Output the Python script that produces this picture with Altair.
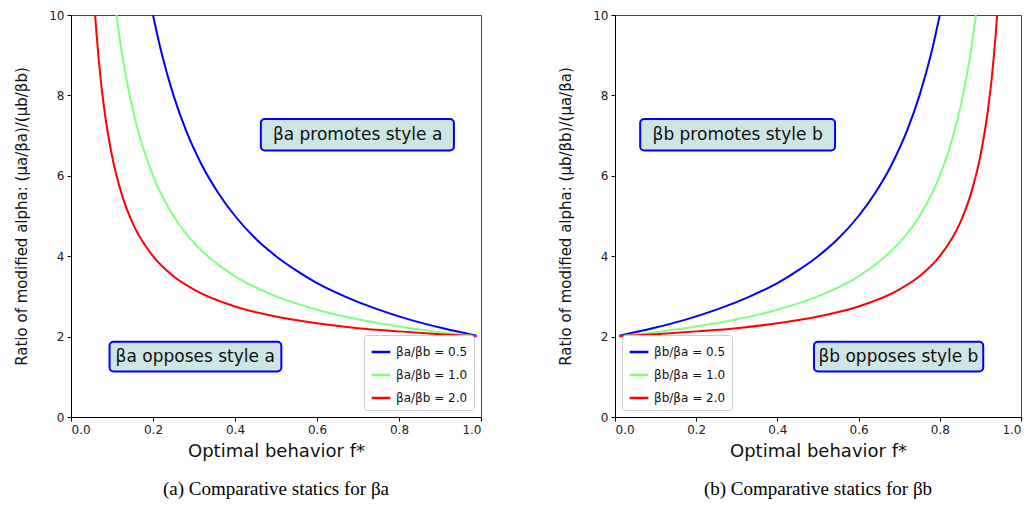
import altair as alt
import pandas as pd

# ---------------- data ----------------
series_a = ["βa/βb = 0.5", "βa/βb = 1.0", "βa/βb = 2.0"]
series_b = ["βb/βa = 0.5", "βb/βa = 1.0", "βb/βa = 2.0"]
line_colors = ["#0000ff", "#80ff80", "#ff0000"]

# panel (a): ratio vs optimal behaviour f*
fa_05 = [0.200, 0.220, 0.250, 0.280, 0.320, 0.360, 0.400, 0.450, 0.500, 0.550, 0.600, 0.670, 0.750, 0.830, 0.910, 0.990]
ya_05 = [10.00, 9.09, 8.00, 7.14, 6.25, 5.56, 5.00, 4.44, 4.00, 3.64, 3.33, 2.99, 2.67, 2.41, 2.20, 2.02]
fa_10 = [0.111, 0.125, 0.143, 0.167, 0.200, 0.250, 0.300, 0.350, 0.400, 0.500, 0.600, 0.700, 0.800, 0.900, 0.990]
ya_10 = [10.00, 9.00, 8.00, 7.00, 6.00, 5.00, 4.33, 3.86, 3.50, 3.00, 2.67, 2.43, 2.25, 2.11, 2.01]
fa_20 = [0.0588, 0.0625, 0.0714, 0.0833, 0.100, 0.125, 0.150, 0.200, 0.250, 0.300, 0.400, 0.500, 0.600, 0.700, 0.800, 0.900, 0.990]
ya_20 = [10.00, 9.50, 8.50, 7.50, 6.50, 5.50, 4.83, 4.00, 3.50, 3.17, 2.75, 2.50, 2.33, 2.21, 2.13, 2.06, 2.01]

# panel (b)
fb_05 = [0.800, 0.780, 0.750, 0.720, 0.680, 0.640, 0.600, 0.550, 0.500, 0.450, 0.400, 0.330, 0.250, 0.170, 0.090, 0.010]
yb_05 = [10.00, 9.09, 8.00, 7.14, 6.25, 5.56, 5.00, 4.44, 4.00, 3.64, 3.33, 2.99, 2.67, 2.41, 2.20, 2.02]
fb_10 = [0.889, 0.875, 0.857, 0.833, 0.800, 0.750, 0.700, 0.650, 0.600, 0.500, 0.400, 0.300, 0.200, 0.100, 0.010]
yb_10 = [10.00, 9.00, 8.00, 7.00, 6.00, 5.00, 4.33, 3.86, 3.50, 3.00, 2.67, 2.43, 2.25, 2.11, 2.01]
fb_20 = [0.9412, 0.9375, 0.9286, 0.9167, 0.900, 0.875, 0.850, 0.800, 0.750, 0.700, 0.600, 0.500, 0.400, 0.300, 0.200, 0.100, 0.010]
yb_20 = [10.00, 9.50, 8.50, 7.50, 6.50, 5.50, 4.83, 4.00, 3.50, 3.17, 2.75, 2.50, 2.33, 2.21, 2.13, 2.06, 2.01]

x_ticks = [0.0, 0.2, 0.4, 0.6, 0.8, 1.0]
y_ticks = [0, 2, 4, 6, 8, 10]

# annotation boxes (data coordinates): label, centre, extent
notes_a = ["βa promotes style a", "βa opposes style a"]
notes_a_f = [0.699, 0.303]
notes_a_y = [7.02, 1.50]
notes_a_f1 = [0.463, 0.094]
notes_a_f2 = [0.934, 0.513]
notes_a_y1 = [6.63, 1.13]
notes_a_y2 = [7.41, 1.87]

notes_b = ["βb promotes style b", "βb opposes style b"]
notes_b_f = [0.302, 0.698]
notes_b_y = [7.02, 1.50]
notes_b_f1 = [0.062, 0.490]
notes_b_f2 = [0.542, 0.907]
notes_b_y1 = [6.63, 1.13]
notes_b_y2 = [7.41, 1.87]

captions = ["(a) Comparative statics for βa", "(b) Comparative statics for βb"]
x_title = "Optimal behavior f*"
y_title_a = "Ratio of modified alpha: (μa/βa)/(μb/βb)"
y_title_b = "Ratio of modified alpha: (μb/βb)/(μa/βa)"


def lines_frame(names, fs, ys):
    rows = []
    for name, f, y in zip(names, fs, ys):
        for fi, yi in zip(f, y):
            rows.append({"series": name, "f": fi, "ratio": yi})
    return pd.DataFrame(rows)


def panel(names, fs, ys, notes, nf, ny, nf1, nf2, ny1, ny2, ytitle, caption,
          legend_orient, width):
    df = lines_frame(names, fs, ys)
    boxes = pd.DataFrame({"label": notes, "f": nf, "ratio": ny,
                          "f1": nf1, "f2": nf2, "r1": ny1, "r2": ny2})
    xs = alt.Scale(domain=[0, 1], nice=False, zero=False)
    ys_ = alt.Scale(domain=[0, 10], nice=False)
    xax = alt.Axis(values=x_ticks, format=".1f", title=x_title)
    yax = alt.Axis(values=y_ticks, format="d", title=ytitle)

    lines = alt.Chart(df).mark_line(strokeWidth=2, clip=True, interpolate="monotone").encode(
        x=alt.X("f:Q", scale=xs, axis=xax),
        y=alt.Y("ratio:Q", scale=ys_, axis=yax),
        color=alt.Color("series:N",
                        scale=alt.Scale(domain=names, range=line_colors),
                        legend=alt.Legend(title=None, orient=legend_orient)),
    )
    rects = alt.Chart(boxes).mark_rect(
        fill="#cde5e5", stroke="#0000ff", strokeWidth=2, cornerRadius=4
    ).encode(
        x=alt.X("f1:Q", scale=xs, axis=xax),
        x2="f2:Q",
        y=alt.Y("r1:Q", scale=ys_, axis=yax),
        y2="r2:Q",
    )
    texts = alt.Chart(boxes).mark_text(
        font="DejaVu Sans", fontSize=17, color="#111111"
    ).encode(
        x=alt.X("f:Q", scale=xs, axis=xax),
        y=alt.Y("ratio:Q", scale=ys_, axis=yax),
        text="label:N",
    )
    return alt.layer(lines, rects, texts).properties(
        width=width, height=402,
        title=alt.TitleParams(caption, orient="bottom", anchor="middle",
                              font="Liberation Serif", fontSize=19,
                              fontWeight="normal", color="#000000", offset=20),
    )


left = panel(series_a, [fa_05, fa_10, fa_20], [ya_05, ya_10, ya_20],
             notes_a, notes_a_f, notes_a_y, notes_a_f1, notes_a_f2, notes_a_y1, notes_a_y2,
             y_title_a, captions[0], "bottom-right", 410)
right = panel(series_b, [fb_05, fb_10, fb_20], [yb_05, yb_10, yb_20],
              notes_b, notes_b_f, notes_b_y, notes_b_f1, notes_b_f2, notes_b_y1, notes_b_y2,
              y_title_b, captions[1], "bottom-left", 406)

chart = alt.hconcat(left, right, spacing=76).resolve_scale(color="independent").properties(
    padding={"left": 6, "top": 0, "right": 0, "bottom": 0}
).configure_axis(
    labelFont="DejaVu Sans", titleFont="DejaVu Sans", labelFontSize=12,
    titleFontWeight="normal", labelColor="#222222",
    titleColor="#111111", tickColor="#000000", domainColor="#000000",
    grid=False, tickSize=4, labelPadding=3,
).configure_axisX(titleFontSize=18, titlePadding=7).configure_axisY(
    titleFontSize=15, titlePadding=19
).configure_view(stroke="#444444", strokeWidth=1).configure_legend(
    labelFont="DejaVu Sans", labelFontSize=12, labelColor="#111111",
    symbolType="stroke", symbolStrokeWidth=2.5, symbolSize=350,
    fillColor="#ffffff", strokeColor="#cccccc", padding=6, cornerRadius=3,
    rowPadding=6, offset=7,
)

chart.save("out.html", embed_options={"renderer": "svg", "actions": False})
